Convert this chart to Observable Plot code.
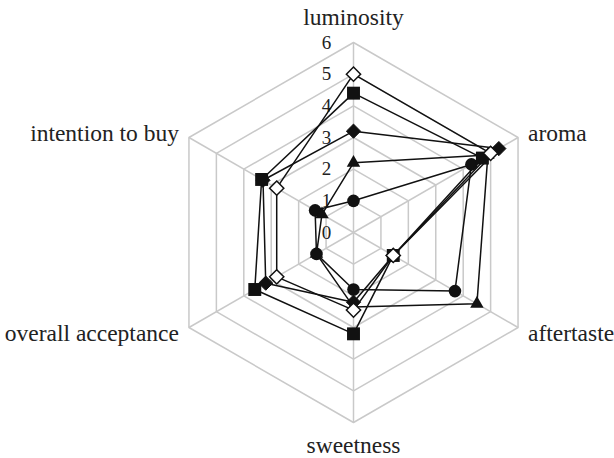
<!DOCTYPE html>
<html>
<head>
<meta charset="utf-8">
<script src="https://cdn.jsdelivr.net/npm/d3@7"></script>
<script src="https://cdn.jsdelivr.net/npm/@observablehq/plot@0.6"></script>
<style>
  html, body { margin: 0; padding: 0; background: #fff; }
  svg { display: block; }
</style>
</head>
<body>
<div id="chart"></div>
<script>
// Axes of the radar (clockwise from top)
const attributes = ["luminosity", "aroma", "aftertaste", "sweetness", "overall acceptance", "intention to buy"];
// Radial tick labels
const ticks = [0, 1, 2, 3, 4, 5, 6];
// Series (values in attribute order)
const seriesNames = ["open diamond", "square", "diamond", "triangle", "circle"];
const openDiamond = [5.0, 5.0, 1.45, 2.45, 2.8, 2.8];
const square      = [4.4, 4.7, 1.45, 3.2, 3.6, 3.35];
const diamond     = [3.2, 5.3, 1.45, 2.2, 3.2, 3.3];
const triangle    = [2.2, 4.9, 4.5, 2.35, 1.35, 1.15];
const circle      = [1.0, 4.3, 3.7, 1.8, 1.35, 1.4];

const seriesValues = [openDiamond, square, diamond, triangle, circle];
const maxValue = d3.max(ticks);

const angle = (i) => (90 - 60 * i) * Math.PI / 180;
const px = (i, v) => v * Math.cos(angle(i));
const py = (i, v) => v * Math.sin(angle(i));

const points = seriesNames.flatMap((s, k) =>
  attributes.map((a, i) => ({series: s, attr: a, i, value: seriesValues[k][i]}))
);
const grid = ticks.filter(t => t > 0).flatMap(t => attributes.map((a, i) => ({level: t, i})));

const markerStyle = {
  "open diamond": {symbol: d3.symbolDiamond2, fill: "white", stroke: "#111", r: 6.4, strokeWidth: 1.5},
  "square":       {symbol: d3.symbolSquare, fill: "#111", stroke: "none", r: 7.3},
  "diamond":      {symbol: d3.symbolDiamond2, fill: "#111", stroke: "#111", r: 6.4, strokeWidth: 1},
  "triangle":     {symbol: d3.symbolTriangle, fill: "#111", stroke: "none", r: 5.0},
  "circle":       {symbol: d3.symbolCircle, fill: "#111", stroke: "none", r: 6.3}
};

const serif = "'Liberation Serif', 'Times New Roman', serif";

const labelDx = (i) => { const c = Math.cos(angle(i)); return Math.abs(c) < 0.1 ? 0 : (c > 0 ? 10 : -10); };
const labelDy = (i) => { const c = Math.cos(angle(i)), s = Math.sin(angle(i)); return Math.abs(c) < 0.1 ? (s > 0 ? -25 : 23) : (s > 0 ? -4 : 6); };
const labelAnchor = (i) => { const c = Math.cos(angle(i)); return Math.abs(c) < 0.1 ? "middle" : (c > 0 ? "start" : "end"); };

const marks = [
  // hexagonal grid
  Plot.line(grid, {
    x: d => px(d.i, d.level), y: d => py(d.i, d.level), z: "level",
    curve: "linear-closed", stroke: "#c9c9c9", strokeWidth: 1.5
  }),
  // spokes
  Plot.link(attributes, {
    x1: 0, y1: 0,
    x2: (a, i) => px(i, maxValue), y2: (a, i) => py(i, maxValue),
    stroke: "#c9c9c9", strokeWidth: 1.5
  }),
  // tick labels
  Plot.text(ticks, {
    x: 0, y: d => d, text: d => String(d), dx: -27,
    fontSize: 19, fill: "#222", fontFamily: serif, textAnchor: "middle"
  }),
  // attribute labels
  ...attributes.map((a, i) => Plot.text([a], {
    x: px(i, maxValue), y: py(i, maxValue), text: d => d,
    dx: labelDx(i), dy: labelDy(i), textAnchor: labelAnchor(i),
    fontSize: 23.5, fill: "#222", fontFamily: serif
  })),
  // series polygons
  Plot.line(points, {
    x: d => px(d.i, d.value), y: d => py(d.i, d.value), z: "series",
    curve: "linear-closed", stroke: "#111", strokeWidth: 1.5
  }),
  // markers
  ...seriesNames.slice().reverse().map(s => {
    const m = markerStyle[s];
    return Plot.dot(points.filter(d => d.series === s), {
      x: d => px(d.i, d.value), y: d => py(d.i, d.value),
      symbol: m.symbol, r: m.r, fill: m.fill, stroke: m.stroke,
      strokeWidth: m.strokeWidth ?? 1
    });
  })
];

const chart = Plot.plot({
  width: 614,
  height: 458,
  marginLeft: 163,
  marginRight: 71,
  marginTop: 42,
  marginBottom: 36,
  x: {domain: [-maxValue, maxValue], axis: null},
  y: {domain: [-maxValue, maxValue], axis: null},
  style: {background: "white", fontFamily: serif, overflow: "visible"},
  marks
});
document.getElementById("chart").appendChild(chart);
</script>
</body>
</html>
